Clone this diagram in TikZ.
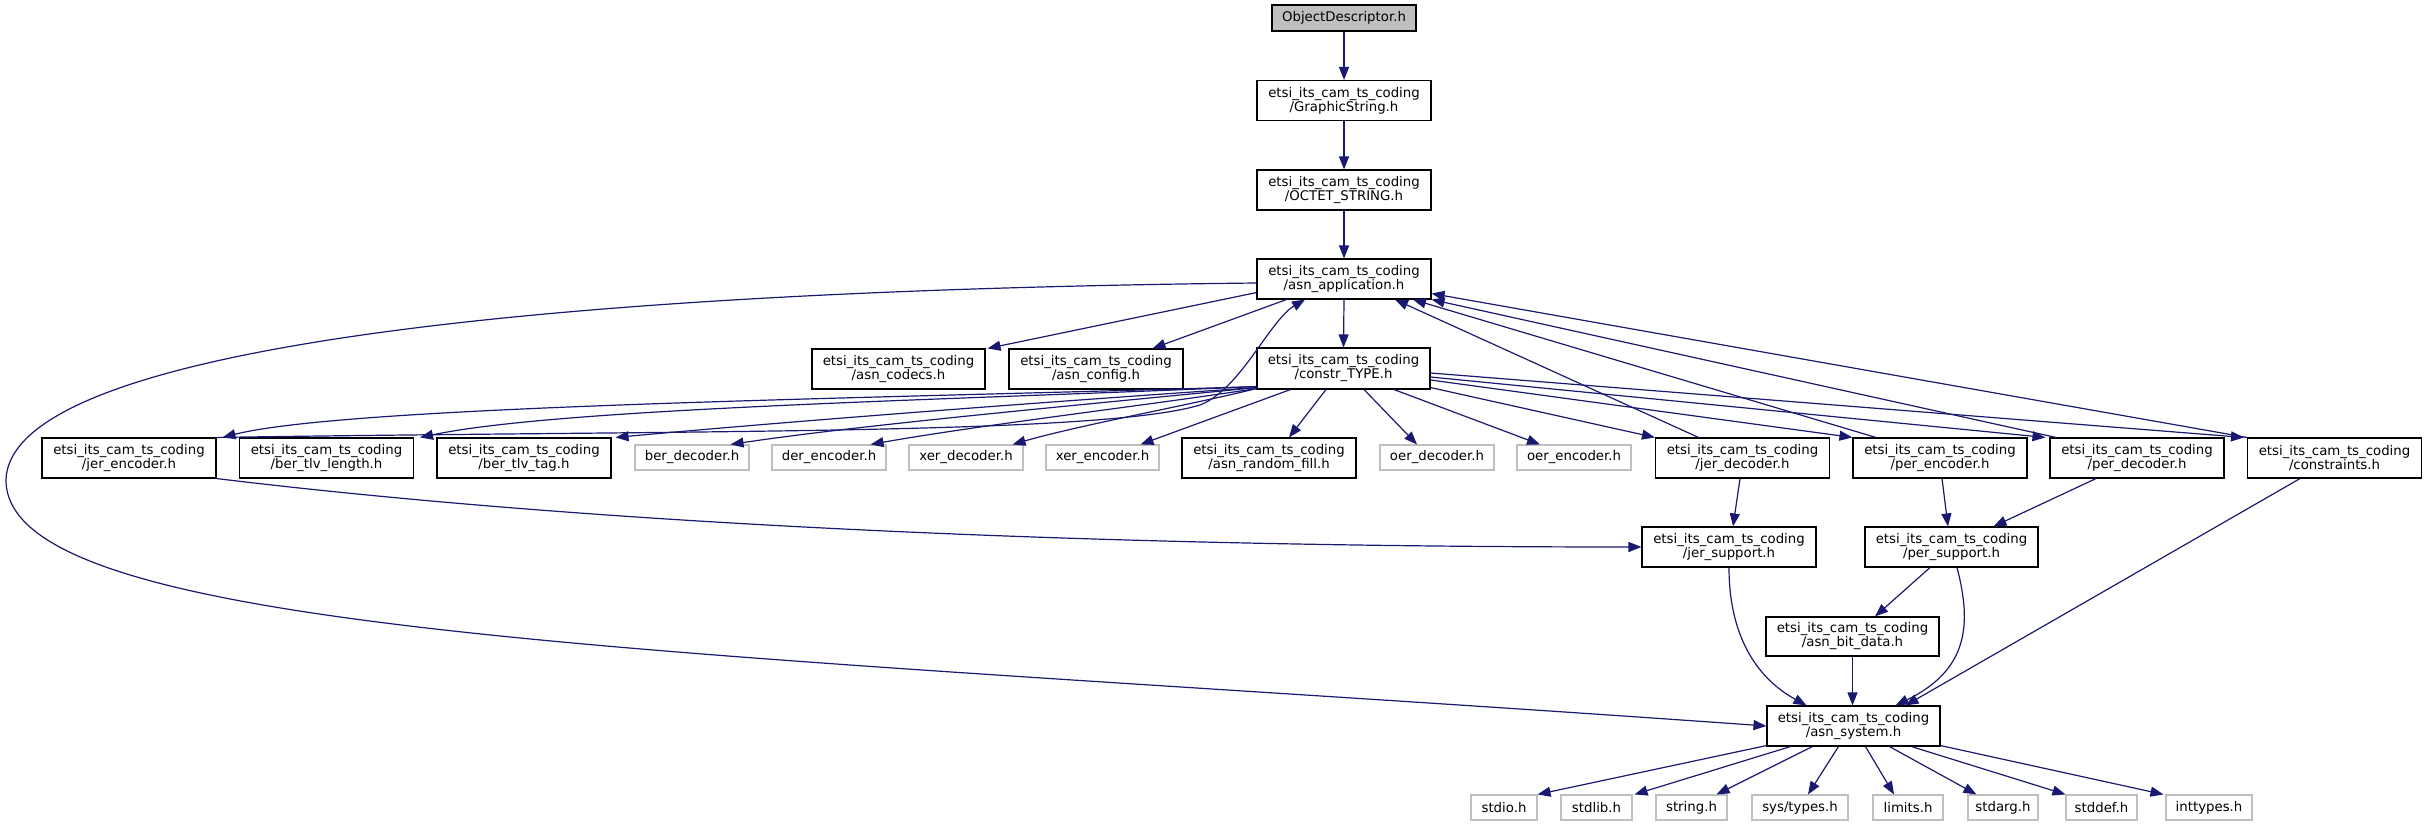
\documentclass[tikz,border=0pt]{standalone}
\usepackage{fontspec}
\setmainfont{DejaVu Sans}
\usetikzlibrary{arrows.meta,calc}
\definecolor{edgec}{HTML}{191970}
\definecolor{gborder}{HTML}{BFBFBF}
\definecolor{rootfill}{HTML}{BFBFBF}
\newcommand{\nf}{\fontsize{13.3}{14}\selectfont}
\newcommand{\etsiprefix}{etsi\_its\_cam\_ts\_coding\\}
\begin{document}
\begin{tikzpicture}[x=1pt,y=-1pt,
  fb/.style={draw=black, fill=white, line width=1.1pt, align=center, inner sep=0pt, font=\nf, minimum width=174pt, minimum height=40pt},
  gb/.style={draw=gborder, fill=white, line width=1.1pt, inner sep=0pt, font=\nf, minimum width=114pt, minimum height=25pt},
  ed/.style={draw=edgec, line width=1.2pt, -{Triangle[length=13pt,width=10pt]}},
]
\useasboundingbox (0,0) rectangle (2427,827);
% nodes
\node[fb, minimum width=144pt, minimum height=26pt, fill=rootfill] (root) at (1344,18) {ObjectDescriptor.h};
\node[fb] (gstr) at (1344,100.5) {\etsiprefix/GraphicString.h};
\node[fb] (octet) at (1344,190) {\etsiprefix/OCTET\_STRING.h};
\node[fb] (app) at (1344,279) {\etsiprefix/asn\_application.h};
\node[fb, minimum width=173pt] (codecs) at (898.5,369) {\etsiprefix/asn\_codecs.h};
\node[fb] (config) at (1096,369) {\etsiprefix/asn\_config.h};
\node[fb, minimum width=173pt, minimum height=41pt] (ctype) at (1343.5,368.5) {\etsiprefix/constr\_TYPE.h};
\node[fb] (jerenc) at (129,458) {\etsiprefix/jer\_encoder.h};
\node[fb] (bertlvlen) at (326.5,458) {\etsiprefix/ber\_tlv\_length.h};
\node[fb] (bertlvtag) at (524,458) {\etsiprefix/ber\_tlv\_tag.h};
\node[gb] (berdec) at (692,457.5) {ber\_decoder.h};
\node[gb] (derenc) at (829,457.5) {der\_encoder.h};
\node[gb] (xerdec) at (966,457.5) {xer\_decoder.h};
\node[gb, minimum width=113pt] (xerenc) at (1102.5,457.5) {xer\_encoder.h};
\node[fb] (rndfill) at (1269,458) {\etsiprefix/asn\_random\_fill.h};
\node[gb] (oerdec) at (1437,457.5) {oer\_decoder.h};
\node[gb] (oerenc) at (1574,457.5) {oer\_encoder.h};
\node[fb] (jerdec) at (1742.5,458) {\etsiprefix/jer\_decoder.h};
\node[fb] (perenc) at (1940,458) {\etsiprefix/per\_encoder.h};
\node[fb] (perdec) at (2137,458) {\etsiprefix/per\_decoder.h};
\node[fb] (constr) at (2334.5,458) {\etsiprefix/constraints.h};
\node[fb] (jersup) at (1729,547) {\etsiprefix/jer\_support.h};
\node[fb, minimum width=173pt] (persup) at (1951.5,547) {\etsiprefix/per\_support.h};
\node[fb, minimum width=173pt, minimum height=39pt] (bitdata) at (1852.5,636.5) {\etsiprefix/asn\_bit\_data.h};
\node[fb, minimum width=173pt] (asnsys) at (1853.5,726) {\etsiprefix/asn\_system.h};
\node[gb, minimum width=66pt] (stdio) at (1504,807.5) {stdio.h};
\node[gb, minimum width=71pt] (stdlib) at (1596.5,807.5) {stdlib.h};
\node[gb, minimum width=71pt] (string) at (1691.5,807.5) {string.h};
\node[gb, minimum width=96pt] (systypes) at (1800,807.5) {sys/types.h};
\node[gb, minimum width=70pt] (limits) at (1908,807.5) {limits.h};
\node[gb, minimum width=70pt] (stdarg) at (2003,807.5) {stdarg.h};
\node[gb, minimum width=71pt] (stddef) at (2101.5,807.5) {stddef.h};
\node[gb, minimum width=86pt] (inttypes) at (2209,807.5) {inttypes.h};
% edges: top chain
\draw[ed] (root.south) -- (gstr.north);
\draw[ed] (gstr.south) -- (octet.north);
\draw[ed] (octet.south) -- (app.north);
\draw[ed] (app.south) -- (ctype.north);
\draw[ed] ($(app.south west)+(0,-7)$) -- ($(codecs.north east)+(2,0)$);
\draw[ed] ($(app.south west)+(30,0)$) -- ($(config.north east)+(-31,0)$);
\draw[ed] ($(app.west)+(0,4)$) .. controls (600,290) and (10,340) .. (6,480)
  .. controls (6,640) and (700,650) .. (asnsys.west);
% constr_TYPE to row 5
\draw[ed] ($(ctype.south west)+(0,-3)$) .. controls (900,398) and (350,405) .. ($(jerenc.north east)+(6,0)$);
\draw[ed] ($(ctype.south west)+(0,-3)$) .. controls (950,400) and (560,408) .. ($(bertlvlen.north east)+(6,0)$);
\draw[ed] ($(ctype.south west)+(0,-2)$) .. controls (1000,405) and (760,424) .. ($(bertlvtag.north east)+(4,0)$);
\draw[ed] ($(ctype.south west)+(0,-2)$) .. controls (1080,405) and (860,425) .. ($(berdec.north east)+(-19,0)$);
\draw[ed] ($(ctype.south west)+(0,-1)$) .. controls (1150,405) and (980,425) .. ($(derenc.north east)+(-16,0)$);
\draw[ed] ($(ctype.south west)+(0,-1)$) .. controls (1190,405) and (1080,425) .. ($(xerdec.north east)+(-11,0)$);
\draw[ed] ($(ctype.south west)+(34,0)$) -- ($(xerenc.north east)+(-19,0)$);
\draw[ed] ($(ctype.south)+(-17.5,0)$) -- ($(rndfill.north)+(20,0)$);
\draw[ed] ($(ctype.south)+(20.5,0)$) -- ($(oerdec.north)+(-20,0)$);
\draw[ed] ($(ctype.south)+(50.5,0)$) -- ($(oerenc.north)+(-34,0)$);
\draw[ed] ($(ctype.south east)+(0,-2)$) -- (jerdec.north west);
\draw[ed] ($(ctype.east)+(0,11.5)$) -- (perenc.north west);
\draw[ed] ($(ctype.east)+(0,8.5)$) -- ($(perdec.north west)+(-4,0)$);
\draw[ed] ($(ctype.east)+(0,4.5)$) -- ($(constr.north west)+(-3,0)$);
% back to asn_application
\draw[ed] (jerenc.north east) .. controls (700,430) and (1100,435) .. (1200,405)
  .. controls (1240,390) and (1270,320) .. ($(app.south)+(-39,0)$);
\draw[ed] ($(jerdec.north)+(-44,0)$) -- ($(app.south)+(51,0)$);
\draw[ed] ($(perenc.north)+(-64,0)$) -- ($(app.south)+(69,0)$);
\draw[ed] ($(perdec.north)+(-81,0)$) -- (app.south east);
\draw[ed] (constr.north west) -- ($(app.south east)+(0,-6)$);
% supports
\draw[ed] (jerenc.south east) .. controls (600,525) and (1100,547) .. (jersup.west);
\draw[ed] ($(jerdec.south)+(-2.5,0)$) -- ($(jersup.north)+(4,0)$);
\draw[ed] ($(perenc.south)+(2,0)$) -- ($(persup.north)+(-3.5,0)$);
\draw[ed] ($(perdec.south)+(-41,0)$) -- ($(persup.north)+(42,0)$);
\draw[ed] ($(persup.south)+(-21.5,0)$) -- ($(bitdata.north)+(22.5,0)$);
\draw[ed] ($(constr.south)+(-34.5,0)$) -- ($(asnsys.north)+(52,0)$);
\draw[ed] ($(persup.south)+(5.5,0)$) .. controls (1972,625) and (1968,670) .. ($(asnsys.north)+(42,0)$);
\draw[ed] (jersup.south) .. controls (1729,640) and (1760,680) .. ($(asnsys.north)+(-47,0)$);
\draw[ed] (bitdata.south) -- (bitdata.south |- asnsys.north);
% asn_system to std headers
\draw[ed] ($(asnsys.south west)+(0,-1)$) -- (stdio.north east);
\draw[ed] ($(asnsys.south west)+(24,0)$) -- ($(stdlib.north east)+(2,0)$);
\draw[ed] ($(asnsys.south west)+(46,0)$) -- ($(string.north east)+(-11,0)$);
\draw[ed] ($(asnsys.south west)+(72,0)$) -- ($(systypes.north)+(8,0)$);
\draw[ed] ($(asnsys.south west)+(99,0)$) -- ($(limits.north)+(-14,0)$);
\draw[ed] ($(asnsys.south west)+(123,0)$) -- ($(stdarg.north west)+(9,0)$);
\draw[ed] ($(asnsys.south west)+(145,0)$) -- (stddef.north west);
\draw[ed] ($(asnsys.south east)+(0,-1)$) -- ($(inttypes.north west)+(-2,0)$);
\end{tikzpicture}
\end{document}
